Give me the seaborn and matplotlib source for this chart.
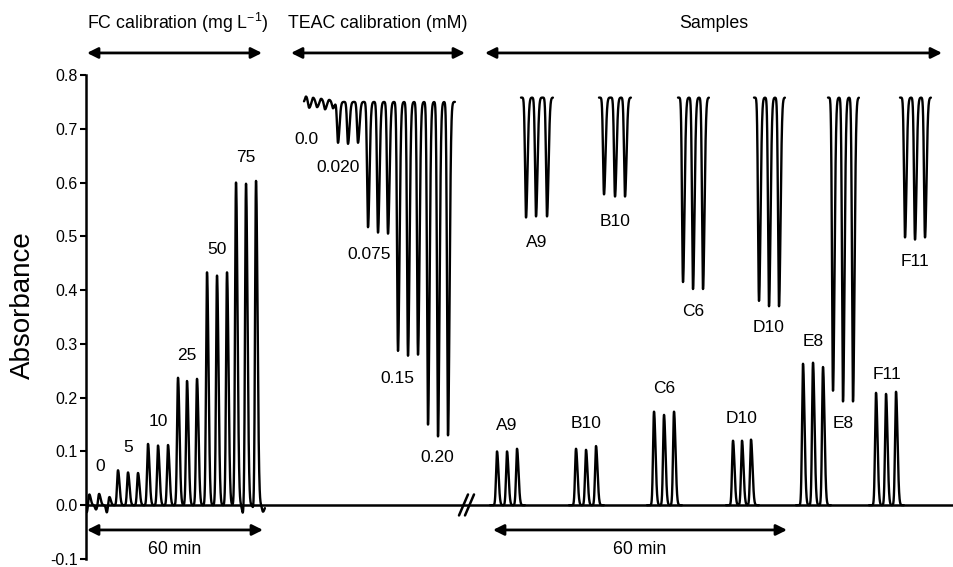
import numpy as np
import pandas as pd
import matplotlib
matplotlib.use('Agg')
import matplotlib.pyplot as plt
import seaborn as sns

# x positions are in plot units, 0 = the absorbance axis
# FC calibration peaks (0, 5, 10, 25, 50, 75 mg/L, triplicates)
fc_pos = [3, 13, 23, 32, 42, 52, 62, 72, 82, 92, 101, 111, 121, 131, 141, 150, 160, 170]
fc_height = [0.025, 0.022, 0.020, 0.065, 0.061, 0.060, 0.114, 0.111, 0.112,
             0.237, 0.231, 0.235, 0.433, 0.427, 0.433, 0.600, 0.600, 0.608]
fc_dip_pos = [1, 10, 21, 157, 168, 177]
fc_dip = [-0.015, -0.008, -0.015, -0.016, -0.012, -0.012]
fc_labels = ['0', '5', '10', '25', '50', '75']

# TEAC calibration (negative peaks from the ABTS baseline)
teac_base = 0.75
teac_blank_pos = [220, 223, 227, 231, 235, 239, 243, 247]
teac_blank = [0.010, -0.012, 0.008, -0.010, 0.006, -0.014, 0.004, -0.012]
teac_pos = [252, 262, 272, 282, 292, 302, 312, 322, 332, 342, 352, 362]
teac_min = [0.674, 0.672, 0.674, 0.517, 0.507, 0.505, 0.287, 0.278, 0.280, 0.150, 0.128, 0.130]
teac_labels = ['0.0', '0.020', '0.075', '0.15', '0.20']

# samples
sample_names = ['A9', 'B10', 'C6', 'D10', 'E8', 'F11']
fc_sample_pos = [[411, 421, 431], [490, 500, 510], [568, 578, 588],
                 [647, 656, 665], [717, 727, 737], [790, 800, 810]]
fc_sample_height = [[0.100, 0.100, 0.105], [0.105, 0.103, 0.110], [0.174, 0.168, 0.174],
                    [0.120, 0.120, 0.122], [0.263, 0.265, 0.257], [0.209, 0.207, 0.211]]
teac_sample_base = 0.758
teac_sample_pos = [[440, 450, 461], [518, 529, 539], [597, 607, 617],
                   [673, 683, 693], [747, 757, 767], [819, 829, 839]]
teac_sample_min = [[0.535, 0.537, 0.537], [0.578, 0.574, 0.574], [0.415, 0.402, 0.402],
                   [0.380, 0.370, 0.370], [0.213, 0.193, 0.193], [0.498, 0.494, 0.498]]


def trace(x0, x1, base, pos, amp):
    # baseline plus narrow, slightly tailing FIA peaks
    x = np.arange(x0, x1, 0.1)
    y = np.full_like(x, base)
    for p, a in zip(pos, amp):
        s = np.where(x < p, 0.95, 1.5)
        y += a * np.exp(-0.5 * ((x - p) / s) ** 2)
    return x, y


segs = []
x, y = trace(0, 179, 0.0, fc_pos + fc_dip_pos, fc_height + fc_dip)
segs.append(pd.DataFrame({'x': x, 'y': y, 'seg': 0}))
x, y = trace(218, 369, teac_base, teac_blank_pos + teac_pos,
             teac_blank + [m - teac_base for m in teac_min])
segs.append(pd.DataFrame({'x': x, 'y': y, 'seg': 1}))
for i in range(len(sample_names)):
    p = fc_sample_pos[i]
    x, y = trace(p[0] - 7, p[-1] + 8, 0.0, p, fc_sample_height[i])
    segs.append(pd.DataFrame({'x': x, 'y': y, 'seg': 10 + i}))
    p = teac_sample_pos[i]
    x, y = trace(p[0] - 5, p[-1] + 6, teac_sample_base, p,
                 [m - teac_sample_base for m in teac_sample_min[i]])
    segs.append(pd.DataFrame({'x': x, 'y': y, 'seg': 20 + i}))
df = pd.concat(segs, ignore_index=True)

sns.set_style('ticks')
plt.rcParams['font.family'] = ['Liberation Sans', 'DejaVu Sans']
plt.rcParams['mathtext.fontset'] = 'custom'
plt.rcParams['mathtext.rm'] = 'Liberation Sans'
plt.rcParams['axes.unicode_minus'] = False
plt.rcParams['text.color'] = 'black'
plt.rcParams['axes.labelcolor'] = 'black'
plt.rcParams['ytick.color'] = 'black'
plt.rcParams['axes.edgecolor'] = 'black'

fig = plt.figure(figsize=(9.54, 5.67), dpi=100)
ax = fig.add_axes([86 / 954, 8 / 567, 868 / 954, 484 / 567])

ax.axhline(0, color='k', lw=1.8, zorder=1)
sns.lineplot(data=df, x='x', y='y', units='seg', estimator=None, sort=False,
             color='k', lw=1.7, ax=ax, zorder=2)

ax.set_xlim(0, 868)
ax.set_ylim(-0.1, 0.8)
ax.set_yticks(np.arange(-0.1, 0.81, 0.1))
ax.set_yticklabels([f'{v:.1f}' for v in np.arange(-0.1, 0.81, 0.1)], fontsize=11.5)
ax.set_xticks([])
ax.set_xlabel('')
ax.set_ylabel('Absorbance', fontsize=20)
ax.yaxis.set_label_coords(-0.058, 0.525)
ax.tick_params(axis='y', length=4, width=1.5, pad=2)
for side in ['top', 'right', 'bottom']:
    ax.spines[side].set_visible(False)
ax.spines['left'].set_linewidth(1.8)

# axis break
ax.plot([373, 382], [-0.019, 0.020], color='k', lw=1.8, clip_on=False)
ax.plot([379, 388], [-0.019, 0.020], color='k', lw=1.8, clip_on=False)

# peak labels
fc_label_xy = [(14, 0.072), (42, 0.107), (72, 0.155), (101, 0.278), (131, 0.476), (160, 0.646)]
for t, (lx, ly) in zip(fc_labels, fc_label_xy):
    ax.text(lx, ly, t, ha='center', va='center', fontsize=12.5)
teac_label_xy = [(220, 0.680), (252, 0.628), (283, 0.467), (311, 0.235), (351, 0.089)]
for t, (lx, ly) in zip(teac_labels, teac_label_xy):
    ax.text(lx, ly, t, ha='center', va='center', fontsize=12.5)
fc_sample_xy = [(421, 0.148), (500, 0.152), (578, 0.217), (656, 0.161), (727, 0.304), (801, 0.243)]
teac_sample_xy = [(451, 0.489), (529, 0.528), (607, 0.361), (683, 0.331), (757, 0.152), (829, 0.454)]
for t, (lx, ly), (mx, my) in zip(sample_names, fc_sample_xy, teac_sample_xy):
    ax.text(lx, ly, t, ha='center', va='center', fontsize=12.5)
    ax.text(mx, my, t, ha='center', va='center', fontsize=12.5)

# section arrows and captions
arrows = [(1, 176, 0.841), (205, 379, 0.841), (399, 856, 0.841), (1, 177, -0.046), (407, 701, -0.046)]
for a, b, yy in arrows:
    ax.annotate('', xy=(a, yy), xytext=(b, yy), xycoords='data', annotation_clip=False,
                arrowprops=dict(arrowstyle='<|-|>', color='k', lw=2, mutation_scale=16,
                                shrinkA=0, shrinkB=0))
captions = [('FC calibration (mg L$^{-1}$)', 92, 0.896), ('TEAC calibration (mM)', 292, 0.896),
            ('Samples', 628, 0.896), ('60 min', 89, -0.083), ('60 min', 554, -0.083)]
for t, cx, cy in captions:
    ax.text(cx, cy, t, ha='center', va='center', fontsize=12.8, clip_on=False)

fig.savefig('out.png', dpi=100)
